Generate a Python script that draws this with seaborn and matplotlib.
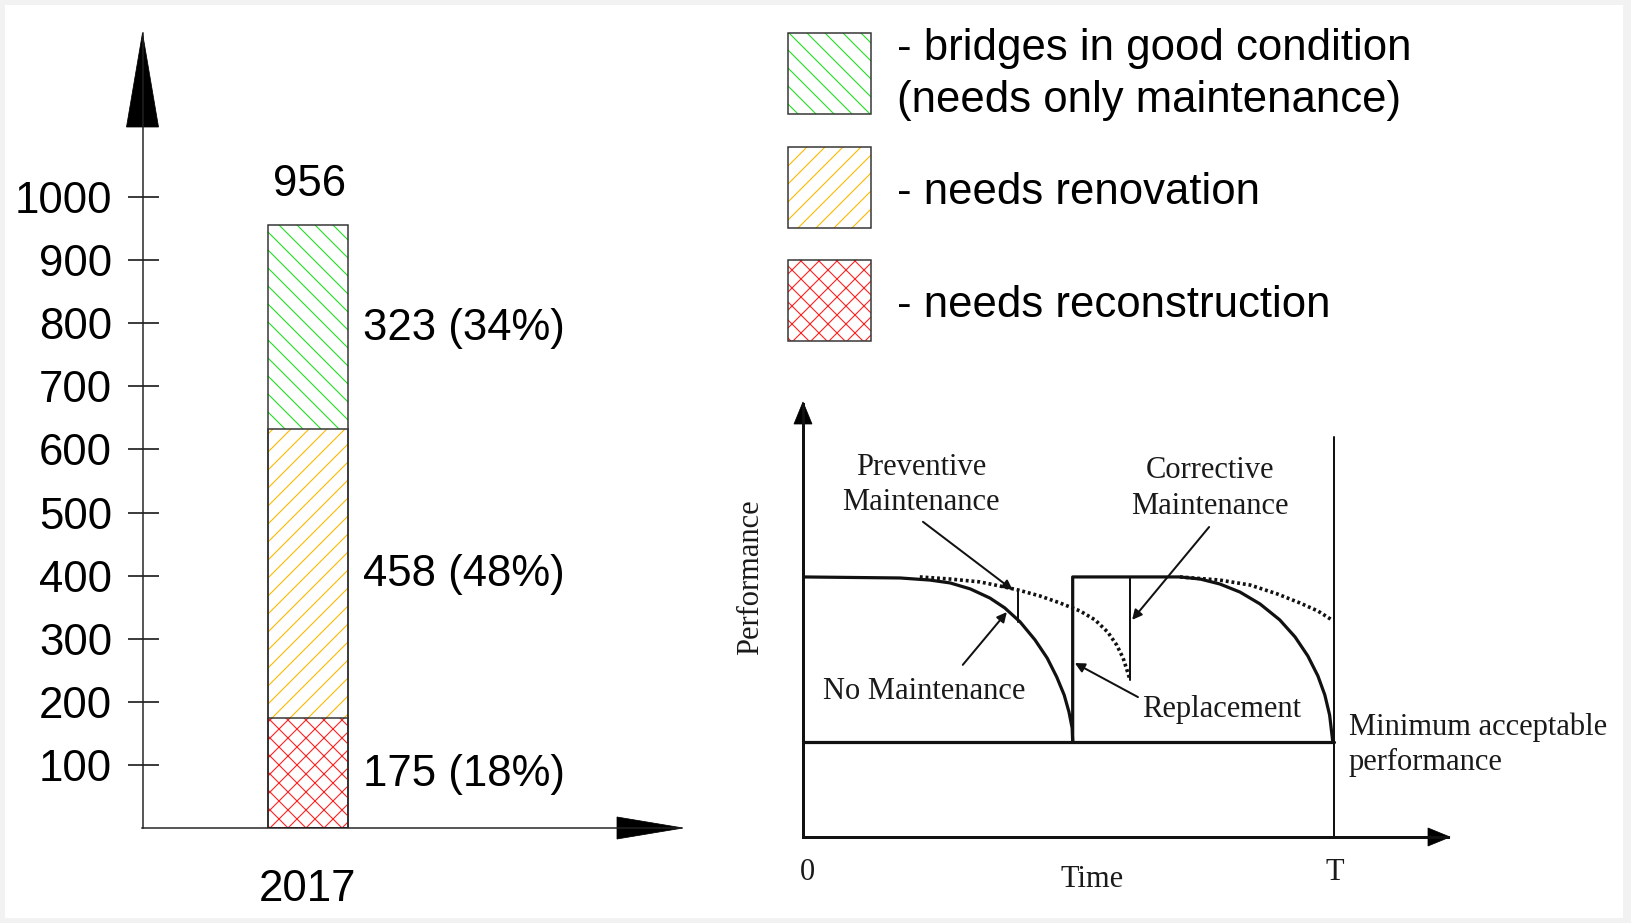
import numpy as np
import matplotlib
matplotlib.use("Agg")
import matplotlib.pyplot as plt
from matplotlib.patches import Rectangle, Polygon
import seaborn as sns

DPI = 54
W, H = 1631, 923


def pt(px):
    # pixel size -> points at the figure dpi
    return px * 72 / DPI


# ---- bar chart data ----
years = ["2017"]
segment_names = ["needs reconstruction", "needs renovation", "bridges in good condition"]
segment_counts = [175, 458, 323]
segment_labels = ["175 (18%)", "458 (48%)", "323 (34%)"]
total_label = "956"
segment_colors = ["#ff2020", "#f9b900", "#22dd22"]
segment_hatches = ["x", "/", "\\"]
y_ticks = [100, 200, 300, 400, 500, 600, 700, 800, 900, 1000]

# legend (top to bottom)
legend_labels = ["- bridges in good condition\n(needs only maintenance)",
                 "- needs renovation",
                 "- needs reconstruction"]
legend_colors = ["#22dd22", "#f9b900", "#ff2020"]
legend_hatches = ["\\", "/", "x"]

# ---- performance diagram data (time in units of T, performance 1 = new) ----
solid_t = [0.0, 0.183, 0.239, 0.277, 0.315, 0.352, 0.380, 0.409, 0.437, 0.460,
           0.478, 0.492, 0.501, 0.507, 0.508,
           0.508, 0.710, 0.748, 0.785, 0.823, 0.861, 0.898, 0.927, 0.951, 0.970,
           0.983, 0.992, 0.998]
solid_p = [1.0, 0.996, 0.988, 0.977, 0.954, 0.919, 0.881, 0.827, 0.758, 0.688,
           0.615, 0.546, 0.481, 0.419, 0.365,
           1.0, 1.0, 0.992, 0.973, 0.942, 0.896, 0.835, 0.769, 0.696, 0.619,
           0.546, 0.469, 0.365]
dotted1_t = [0.220, 0.277, 0.333, 0.371, 0.405, 0.446, 0.484, 0.522, 0.550, 0.574,
             0.591, 0.603, 0.612, 0.616]
dotted1_p = [1.0, 0.992, 0.981, 0.965, 0.950, 0.927, 0.900, 0.869, 0.835, 0.788,
             0.738, 0.688, 0.631, 0.604]
dotted2_t = [0.710, 0.785, 0.842, 0.893, 0.936, 0.970, 0.996]
dotted2_p = [1.0, 0.988, 0.969, 0.935, 0.900, 0.869, 0.835]
min_perf = 0.365
preventive_t, preventive_p = [0.405, 0.405], [0.827, 0.950]
corrective_t, corrective_p = [0.616, 0.616], [0.604, 1.0]
t_line_t, t_line_p = [1.0, 1.0], [0.0, 1.538]

callout_texts = [["Preventive", "Maintenance"], ["Corrective", "Maintenance"],
                 ["No Maintenance"], ["Replacement"]]
callout_text_pos = [(0.222, [1.419, 1.285]), (0.766, [1.408, 1.269]),
                    (0.228, [0.558]), (0.789, [0.492])]
callout_tail = [(0.226, 1.212), (0.765, 1.192), (0.301, 0.662), (0.631, 0.538)]
callout_head = [(0.395, 0.950), (0.620, 0.835), (0.384, 0.865), (0.512, 0.669)]

sns.set_theme(style="white")
plt.rcParams["font.family"] = ["Liberation Sans", "DejaVu Sans"]
plt.rcParams["text.color"] = "black"
plt.rcParams["xtick.color"] = "black"
plt.rcParams["ytick.color"] = "black"
plt.rcParams["hatch.linewidth"] = pt(1.1)

FS = pt(43.75)
SERIF = ["Liberation Serif", "DejaVu Serif"]
FS_SERIF = pt(30.5)
INK = "#1a1a1a"

fig = plt.figure(figsize=(W / DPI, H / DPI), dpi=DPI, facecolor="#f2f2f2")
fig.add_artist(Rectangle((5 / W, 1 - 918 / H), (1623 - 5) / W, (918 - 5) / H,
                         transform=fig.transFigure, facecolor="white",
                         edgecolor="none", zorder=-1))

# overlay in pixel coordinates for arrowheads and the legend
ov = fig.add_axes([0, 0, 1, 1])
ov.set_xlim(0, W)
ov.set_ylim(H, 0)
ov.axis("off")

# ---- stacked bar chart ----
ax = fig.add_axes([142.5 / W, 1 - 828 / H, 538.5 / W, (828 - 33) / H])
ax.patch.set_alpha(0)
tops = np.cumsum(segment_counts)

for i in reversed(range(len(segment_counts))):
    sns.barplot(x=years, y=[tops[i]], ax=ax, width=0.5, color="white")
    bar = ax.containers[-1].patches[0]
    bar.set_facecolor("white")
    bar.set_edgecolor(segment_colors[i])
    bar.set_hatch(segment_hatches[i])
    bar.set_linewidth(0)

for i in range(len(segment_counts)):
    sns.barplot(x=years, y=[tops[i]], ax=ax, width=0.5, color="white")
    bar = ax.containers[-1].patches[0]
    bar.set_facecolor("none")
    bar.set_edgecolor("#333333")
    bar.set_linewidth(pt(1.5))

for i in range(len(segment_counts)):
    mid = tops[i] - segment_counts[i] / 2
    ax.annotate(segment_labels[i], xy=(0.25, mid), xytext=(pt(14.5), -pt(13)),
                textcoords="offset points", ha="left", va="baseline", fontsize=FS)
ax.annotate(total_label, xy=(0, tops[-1]), xytext=(pt(2), pt(29)),
            textcoords="offset points", ha="center", va="baseline", fontsize=FS)

ax.set_xlim(-1.027, 2.317)
ax.set_ylim(0, 1260)
ax.set_yticks(y_ticks)
ax.set_xlabel("")
ax.set_ylabel("")
sns.despine(ax=ax)
for s in ["left", "bottom"]:
    ax.spines[s].set_linewidth(pt(1.5))
    ax.spines[s].set_color("#222222")
ax.tick_params(axis="y", direction="inout", length=pt(31), width=pt(1.5),
               pad=pt(15), labelsize=FS, left=True)
ax.tick_params(axis="x", length=0, pad=pt(41), labelsize=FS)

ov.add_patch(Polygon([(142.5, 33), (126.5, 127), (158.5, 127)], closed=True,
                     facecolor="black", edgecolor="black"))
ov.add_patch(Polygon([(683, 828), (617, 817), (617, 839)], closed=True,
                     facecolor="black", edgecolor="black"))

# ---- legend ----
box_tops = [33, 146.7, 260]
text_baselines = [60, 204, 317]
for i, label in enumerate(legend_labels):
    ov.add_patch(Rectangle((787.5, box_tops[i]), 83, 81, facecolor="white",
                           edgecolor=legend_colors[i], hatch=legend_hatches[i],
                           linewidth=0))
    ov.add_patch(Rectangle((787.5, box_tops[i]), 83, 81, facecolor="none",
                           edgecolor="#333333", linewidth=pt(1.5)))
    for j, line in enumerate(label.split("\n")):
        ov.text(897, text_baselines[i] + 52 * j, line, ha="left", va="baseline",
                fontsize=FS)

# ---- performance diagram ----
dx = fig.add_axes([803 / W, 1 - 837 / H, (1448 - 803) / W, (837 - 404) / H])
dx.patch.set_alpha(0)
dx.set_xlim(0, 1.215)
dx.set_ylim(0, 1.665)
sns.despine(ax=dx)
for s in ["left", "bottom"]:
    dx.spines[s].set_linewidth(pt(3))
    dx.spines[s].set_color("#111111")
dx.set_xticks([])
dx.set_yticks([])

lw_main = pt(3.2)
sns.lineplot(x=solid_t, y=solid_p, ax=dx, sort=False, estimator=None,
             color="#111111", linewidth=lw_main)
sns.lineplot(x=dotted1_t, y=dotted1_p, ax=dx, sort=False, estimator=None,
             color="#111111", linewidth=pt(3.6), linestyle=(0, (0.8, 0.8)))
sns.lineplot(x=dotted2_t, y=dotted2_p, ax=dx, sort=False, estimator=None,
             color="#111111", linewidth=pt(3.6), linestyle=(0, (0.8, 0.8)))
sns.lineplot(x=[0, 1], y=[min_perf, min_perf], ax=dx, sort=False, estimator=None,
             color="#111111", linewidth=lw_main)
sns.lineplot(x=t_line_t, y=t_line_p, ax=dx, sort=False, estimator=None,
             color="#111111", linewidth=pt(2))
sns.lineplot(x=preventive_t, y=preventive_p, ax=dx, sort=False, estimator=None,
             color="#111111", linewidth=pt(2))
sns.lineplot(x=corrective_t, y=corrective_p, ax=dx, sort=False, estimator=None,
             color="#111111", linewidth=pt(2))

for lines, (tx, pys), tail, head in zip(callout_texts, callout_text_pos,
                                        callout_tail, callout_head):
    for line, py in zip(lines, pys):
        dx.text(tx, py, line, ha="center", va="center", fontsize=FS_SERIF,
                family=SERIF, color=INK)
    dx.annotate("", xy=head, xytext=tail,
                arrowprops=dict(arrowstyle="-|>", color="#111111", lw=pt(2),
                                mutation_scale=pt(20), shrinkA=0, shrinkB=0))

dx.text(1.028, 0.423, "Minimum acceptable", ha="left", va="center",
        fontsize=FS_SERIF, family=SERIF, color=INK)
dx.text(1.028, 0.288, "performance", ha="left", va="center",
        fontsize=FS_SERIF, family=SERIF, color=INK)
dx.text(-0.098, 1.0, "Performance", ha="center", va="center", rotation=90,
        fontsize=FS_SERIF, family=SERIF, color=INK)
dx.text(0.008, -0.135, "0", ha="center", va="center", fontsize=FS_SERIF,
        family=SERIF, color=INK)
dx.text(0.544, -0.162, "Time", ha="center", va="center", fontsize=FS_SERIF,
        family=SERIF, color=INK)
dx.text(1.002, -0.135, "T", ha="center", va="center", fontsize=FS_SERIF,
        family=SERIF, color=INK)
if dx.get_legend() is not None:
    dx.get_legend().remove()

ov.add_patch(Polygon([(803, 402), (794, 424), (812, 424)], closed=True,
                     facecolor="black", edgecolor="black"))
ov.add_patch(Polygon([(1450, 837), (1428, 828), (1428, 846)], closed=True,
                     facecolor="black", edgecolor="black"))

fig.savefig("out.png", dpi=DPI, facecolor=fig.get_facecolor())
